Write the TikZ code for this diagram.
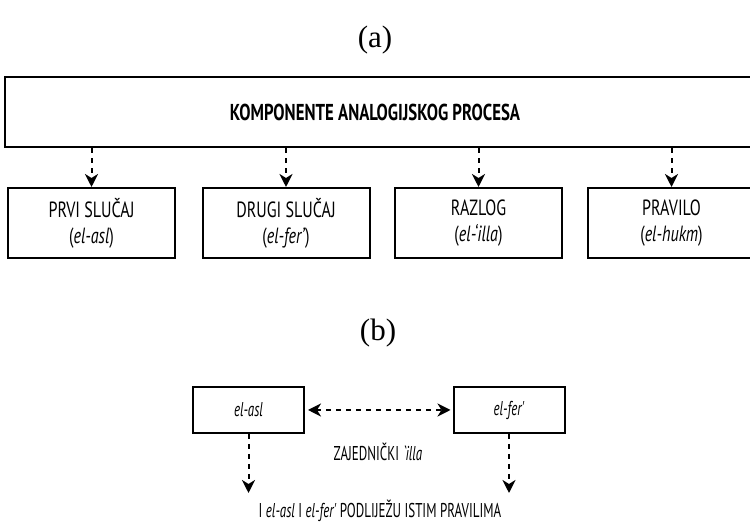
\documentclass[tikz,border=0pt]{standalone}
\usepackage{fontspec}
\setmainfont{PT Sans}[FakeStretch=0.73]
\newfontfamily\narrowfont{PT Sans}[FakeStretch=0.65]
\newfontfamily\labfont{Liberation Serif}
\usetikzlibrary{arrows.meta}

\begin{document}
\begin{tikzpicture}[x=0.5pt,y=-0.5pt,>={Stealth[length=6.5pt,width=6.5pt,inset=2pt]},
  box/.style={draw,line width=1pt,minimum width=83.5pt,minimum height=35pt,
    inner sep=0pt,align=center,font=\fontsize{11}{13}\selectfont},
  smallbox/.style={box,minimum width=55.5pt,minimum height=23pt,font=\narrowfont\fontsize{10}{12}\selectfont},
  dasharrow/.style={line width=1pt,dash pattern=on 2.5pt off 2.5pt,->},
  lab/.style={font=\labfont\fontsize{15.5}{15.5}\selectfont},
  txt/.style={font=\narrowfont\fontsize{10}{12}\selectfont}]
  \useasboundingbox (0,0) rectangle (750,522);
  \node[lab] (laba) at (375,40) {(a)};
  \node[box,minimum width=377.5pt] (proc) at (382.5,112.5) {};
  \node[font=\bfseries\fontsize{11.5}{13}\selectfont] (proctxt) at (375,112.5) {KOMPONENTE ANALOGIJSKOG PROCESA};
  \node[box] (asl) at (91.5,223) {PRVI SLUČAJ\\(\textit{el-asl})};
  \node[box] (fer) at (286,223) {DRUGI SLUČAJ\\(\textit{el-fer'})};
  \node[box] (illa) at (478.5,223) {RAZLOG\\(\textit{el-`illa})};
  \node[box] (hukm) at (671.5,223) {PRAVILO\\(\textit{el-hukm})};
  \foreach \n in {asl,fer,illa,hukm}
    \draw[dasharrow] (\n.north |- proc.south) -- (\n.north);

  \node[lab] (labb) at (378,333) {(b)};
  \node[smallbox] (basl) at (248.5,410) {\textit{el-asl}};
  \node[smallbox] (bfer) at (509,410) {\textit{el-fer'}};
  \draw[dasharrow,<->,shorten <=1.5pt,shorten >=1pt] (basl) -- (bfer);
  \coordinate (aslend) at (248.5,493);
  \coordinate (ferend) at (509,493);
  \draw[dasharrow] (basl) -- (aslend);
  \draw[dasharrow] (bfer) -- (ferend);
  \node[txt] (zaj) at (378,452) {ZAJEDNIČKI \textit{`illa}};
  \node[txt] (rule) at (380,511) {I \textit{el-asl} I \textit{el-fer'} PODLIJEŽU ISTIM PRAVILIMA};
\end{tikzpicture}
\end{document}
